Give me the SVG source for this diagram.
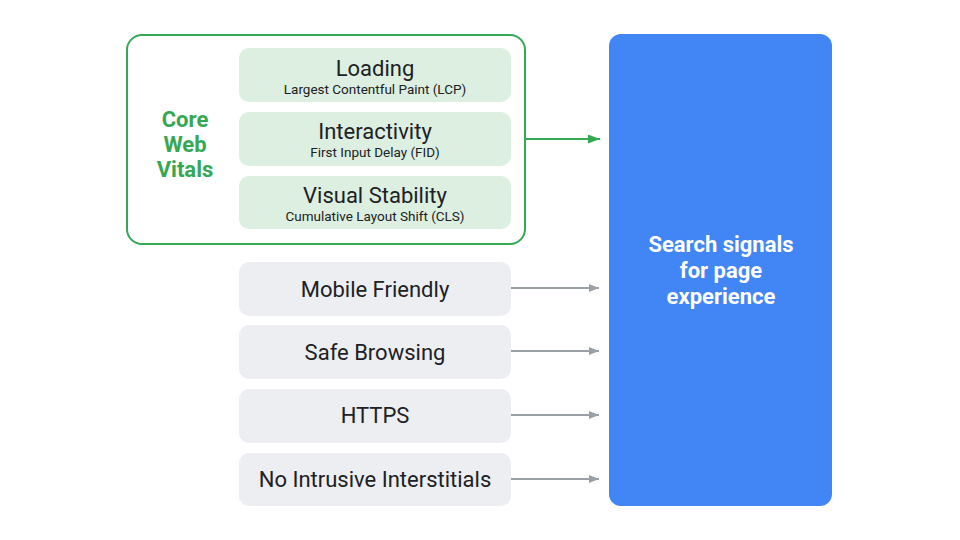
<svg xmlns="http://www.w3.org/2000/svg" width="960" height="540" viewBox="0 0 960 540">
<style>
.bg{fill:#ffffff}
.g{fill:#dcefe0}
.n{fill:#edeef1}
.t1{font-family:Roboto,"Open Sans","Liberation Sans",sans-serif;font-size:22px;fill:#202124;text-anchor:middle}
.t2{font-family:Roboto,"Open Sans","Liberation Sans",sans-serif;font-size:13.5px;fill:#202124;text-anchor:middle}
.cwv{font-family:Roboto,"Open Sans","Liberation Sans",sans-serif;font-size:22px;font-weight:bold;fill:#34a853;text-anchor:middle}
.ss{font-family:Roboto,"Open Sans","Liberation Sans",sans-serif;font-size:22px;font-weight:bold;fill:#ffffff;text-anchor:middle}
.ga{stroke:#9aa0a6;stroke-width:2;fill:none}
</style>
<defs>
<marker id="ag" markerWidth="10" markerHeight="8" refX="10" refY="4" orient="auto" markerUnits="userSpaceOnUse">
<path d="M0,0 L10,4 L0,8 Z" fill="#9aa0a6"/>
</marker>
<marker id="agr" markerWidth="12" markerHeight="9" refX="12" refY="4.5" orient="auto" markerUnits="userSpaceOnUse">
<path d="M0,0 L12,4.5 L0,9 Z" fill="#34a853"/>
</marker>
</defs>
<rect class="bg" x="0" y="0" width="960" height="540"/>
<g id="core-web-vitals">
<rect x="127" y="35" width="398" height="209" rx="15" fill="none" stroke="#34a853" stroke-width="2"/>
<text class="cwv" x="185" y="127">Core</text>
<text class="cwv" x="185" y="152">Web</text>
<text class="cwv" x="185" y="177">Vitals</text>
</g>
<g id="loading">
<rect class="g" x="239" y="48" width="272" height="54" rx="10"/>
<text class="t1" x="375" y="76">Loading</text>
<text class="t2" x="375" y="94">Largest Contentful Paint (LCP)</text>
</g>
<g id="interactivity">
<rect class="g" x="239" y="112" width="272" height="54" rx="10"/>
<text class="t1" x="375" y="139">Interactivity</text>
<text class="t2" x="375" y="157">First Input Delay (FID)</text>
</g>
<g id="visual-stability">
<rect class="g" x="239" y="176" width="272" height="53" rx="10"/>
<text class="t1" x="375" y="203">Visual Stability</text>
<text class="t2" x="375" y="221">Cumulative Layout Shift (CLS)</text>
</g>
<g id="mobile-friendly">
<rect class="n" x="239" y="262" width="272" height="54" rx="10"/>
<text class="t1" x="375" y="297">Mobile Friendly</text>
</g>
<g id="safe-browsing">
<rect class="n" x="239" y="325" width="272" height="54" rx="10"/>
<text class="t1" x="375" y="360">Safe Browsing</text>
</g>
<g id="https">
<rect class="n" x="239" y="389" width="272" height="54" rx="10"/>
<text class="t1" x="375" y="423">HTTPS</text>
</g>
<g id="no-intrusive">
<rect class="n" x="239" y="453" width="272" height="53" rx="10"/>
<text class="t1" x="375" y="487">No Intrusive Interstitials</text>
</g>
<g id="search-signals">
<rect x="609" y="34" width="223" height="472" rx="12" fill="#4285f4"/>
<text class="ss" x="721" y="252">Search signals</text>
<text class="ss" x="721" y="278">for page</text>
<text class="ss" x="721" y="304">experience</text>
</g>
<g id="connectors">
<line x1="525" y1="139" x2="600" y2="139" stroke="#34a853" stroke-width="2" marker-end="url(#agr)"/>
<line class="ga" x1="511" y1="288" x2="599" y2="288" marker-end="url(#ag)"/>
<line class="ga" x1="511" y1="351" x2="599" y2="351" marker-end="url(#ag)"/>
<line class="ga" x1="511" y1="415" x2="599" y2="415" marker-end="url(#ag)"/>
<line class="ga" x1="511" y1="479" x2="599" y2="479" marker-end="url(#ag)"/>
</g>
</svg>
